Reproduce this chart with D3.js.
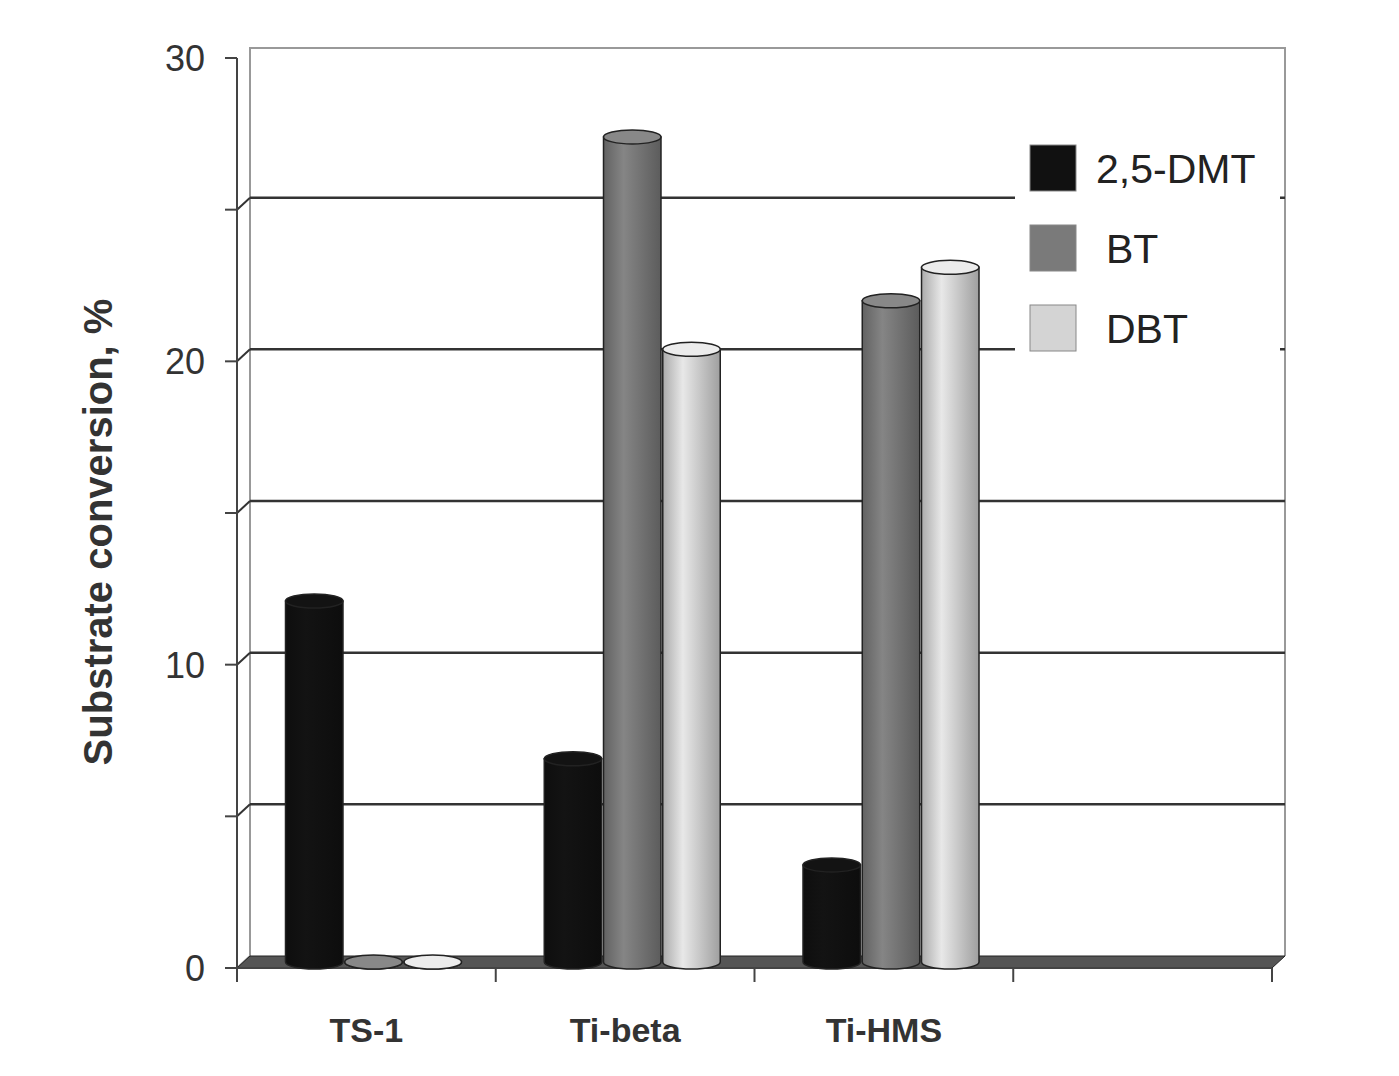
<!DOCTYPE html>
<html><head><meta charset="utf-8">
<script src="https://cdn.jsdelivr.net/npm/d3@7"></script>
<style>body{margin:0;background:#fff}</style>
</head><body>
<svg id="chart" width="1399" height="1076"></svg>
<script>
// data
var categories = ["TS-1", "Ti-beta", "Ti-HMS", ""];
var series = ["2,5-DMT", "BT", "DBT"];
var dmt = [11.9, 6.7, 3.2, 0];
var bt = [0, 27.2, 21.8, 0];
var dbt = [0, 20.2, 22.9, 0];
var yTicks = [0, 10, 20, 30];
var colors = ["#111111", "#7a7a7a", "#d4d4d4"];

var svg = d3.select("#chart");
var dx = 13, dy = -12; // 3d depth
var x0 = 237, x1 = 1272, yb = 968, yt = 58;

var y = d3.scaleLinear().domain([0, 30]).range([yb, yt]);
var x = d3.scaleBand().domain(categories).range([x0, x1]);
var xs = d3.scaleBand().domain(series).range([42, 218]).paddingInner(0.03);

var defs = svg.append("defs");
colors.forEach(function(c, i) {
  var g = defs.append("linearGradient").attr("id", "g" + i);
  var base = d3.color(c);
  g.append("stop").attr("offset", "0%").attr("stop-color", base.darker(0.6));
  g.append("stop").attr("offset", "35%").attr("stop-color", base.brighter(0.25));
  g.append("stop").attr("offset", "100%").attr("stop-color", base.darker(0.8));
});

// back wall + gridlines
svg.append("path")
  .attr("d", `M${x0},${yb} L${x0 + dx},${yb + dy} L${x0 + dx},${yt - 10} L${x1 + dx},${yt - 10} L${x1 + dx},${yb + dy}`)
  .attr("fill", "none").attr("stroke", "#999").attr("stroke-width", 2);
d3.range(5, 30, 5).forEach(function(v) {
  svg.append("line")
    .attr("x1", x0).attr("y1", y(v)).attr("x2", x0 + dx).attr("y2", y(v) + dy)
    .attr("stroke", "#333").attr("stroke-width", 2);
  svg.append("line")
    .attr("x1", x0 + dx).attr("y1", y(v) + dy).attr("x2", x1 + dx).attr("y2", y(v) + dy)
    .attr("stroke", "#333").attr("stroke-width", 2.5);
});

// floor
svg.append("path")
  .attr("d", `M${x0},${yb} L${x0 + dx},${yb + dy} L${x1 + dx},${yb + dy} L${x1},${yb} Z`)
  .attr("fill", "#555").attr("stroke", "#222");

// y axis
svg.append("line").attr("x1", x0).attr("x2", x0).attr("y1", yb).attr("y2", yt)
  .attr("stroke", "#444").attr("stroke-width", 2);
d3.range(0, 31, 5).forEach(function(v) {
  svg.append("line").attr("x1", x0 - 12).attr("x2", x0).attr("y1", y(v)).attr("y2", y(v))
    .attr("stroke", "#444").attr("stroke-width", 2);
});
svg.selectAll(".yt").data(yTicks).enter().append("text")
  .attr("x", 205).attr("y", d => y(d) + 13).attr("text-anchor", "end")
  .attr("font-family", "Liberation Sans, Arial").attr("font-size", 36).attr("fill", "#333")
  .text(d => d);
svg.append("text").attr("transform", "translate(112,532) rotate(-90)")
  .attr("text-anchor", "middle").attr("font-family", "Liberation Sans, Arial")
  .attr("font-weight", "bold").attr("font-size", 40).attr("fill", "#333")
  .text("Substrate conversion, %");

// x axis
svg.append("line").attr("x1", x0).attr("x2", x1).attr("y1", yb).attr("y2", yb)
  .attr("stroke", "#444").attr("stroke-width", 2);
categories.concat(["end"]).forEach(function(c, i) {
  var xx = i < categories.length ? x(c) : x1;
  svg.append("line").attr("x1", xx).attr("x2", xx).attr("y1", yb).attr("y2", yb + 14)
    .attr("stroke", "#444").attr("stroke-width", 2);
});
svg.selectAll(".xt").data(categories).enter().append("text")
  .attr("x", d => x(d) + x.bandwidth() / 2).attr("y", 1042).attr("text-anchor", "middle")
  .attr("font-family", "Liberation Sans, Arial").attr("font-weight", "bold")
  .attr("font-size", 34).attr("fill", "#333").text(d => d);

// cylinders
var vals = [dmt, bt, dbt];
series.forEach(function(s, si) {
  categories.forEach(function(c, ci) {
    var v = vals[si][ci];
    if (c === "") return;
    var w = xs.bandwidth();
    var cx = x(c) + xs(s) + w / 2 + dx / 2;
    var top = y(v) + dy / 2, bot = yb + dy / 2;
    var ry = 7;
    var g = svg.append("g");
    g.append("path")
      .attr("d", `M${cx - w / 2},${top} L${cx - w / 2},${bot} A${w / 2},${ry} 0 0 0 ${cx + w / 2},${bot} L${cx + w / 2},${top} Z`)
      .attr("fill", "url(#g" + si + ")").attr("stroke", "#222").attr("stroke-width", 1.5);
    g.append("ellipse").attr("cx", cx).attr("cy", top).attr("rx", w / 2).attr("ry", ry)
      .attr("fill", d3.color(colors[si]).brighter(0.3)).attr("stroke", "#222").attr("stroke-width", 1.5);
  });
});

// legend
var lg = svg.append("g");
lg.append("rect").attr("x", 1015).attr("y", 135).attr("width", 265).attr("height", 230).attr("fill", "#fff");
series.forEach(function(s, i) {
  var yy = 145 + i * 80;
  lg.append("rect").attr("x", 1030).attr("y", yy).attr("width", 46).attr("height", 46)
    .attr("fill", colors[i]).attr("stroke", "#888");
  lg.append("text").attr("x", i === 0 ? 1096 : 1106).attr("y", yy + 38)
    .attr("font-family", "Liberation Sans, Arial").attr("font-size", 41).attr("fill", "#222").text(s);
});
</script>
</body></html>
